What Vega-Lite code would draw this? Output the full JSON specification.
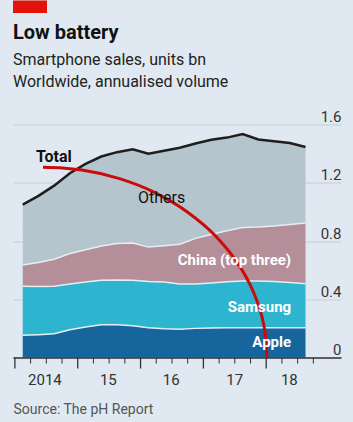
{
  "$schema": "https://vega.github.io/schema/vega-lite/v6.json",
  "width": 328,
  "height": 233,
  "autosize": "none",
  "padding": {"left": 13, "top": 124.5, "right": 12, "bottom": 64.5},
  "background": "#e0e9f1",
  "title": {
    "text": "Low battery",
    "subtitle": ["Smartphone sales, units bn", "Worldwide, annualised volume"],
    "anchor": "start",
    "frame": "group",
    "fontSize": 20,
    "fontWeight": "bold",
    "color": "#111111",
    "subtitleFontSize": 16,
    "subtitleColor": "#222222",
    "subtitleLineHeight": 22,
    "subtitlePadding": 9,
    "offset": -90
  },
  "datasets": {
    "sales": [
      {"q": 2014.125, "Apple": 0.152, "Samsung": 0.338, "China (top three)": 0.145, "Others": 0.415, "Total": 1.05},
      {"q": 2014.375, "Apple": 0.157, "Samsung": 0.331, "China (top three)": 0.164, "Others": 0.458, "Total": 1.11},
      {"q": 2014.625, "Apple": 0.163, "Samsung": 0.327, "China (top three)": 0.185, "Others": 0.505, "Total": 1.18},
      {"q": 2014.875, "Apple": 0.19, "Samsung": 0.315, "China (top three)": 0.209, "Others": 0.551, "Total": 1.265},
      {"q": 2015.125, "Apple": 0.21, "Samsung": 0.308, "China (top three)": 0.222, "Others": 0.59, "Total": 1.33},
      {"q": 2015.375, "Apple": 0.225, "Samsung": 0.305, "China (top three)": 0.235, "Others": 0.615, "Total": 1.38},
      {"q": 2015.625, "Apple": 0.225, "Samsung": 0.307, "China (top three)": 0.25, "Others": 0.628, "Total": 1.41},
      {"q": 2015.875, "Apple": 0.218, "Samsung": 0.312, "China (top three)": 0.256, "Others": 0.644, "Total": 1.43},
      {"q": 2016.125, "Apple": 0.205, "Samsung": 0.317, "China (top three)": 0.236, "Others": 0.642, "Total": 1.4},
      {"q": 2016.375, "Apple": 0.198, "Samsung": 0.32, "China (top three)": 0.25, "Others": 0.652, "Total": 1.42},
      {"q": 2016.625, "Apple": 0.194, "Samsung": 0.311, "China (top three)": 0.273, "Others": 0.662, "Total": 1.44},
      {"q": 2016.875, "Apple": 0.2, "Samsung": 0.305, "China (top three)": 0.313, "Others": 0.652, "Total": 1.47},
      {"q": 2017.125, "Apple": 0.202, "Samsung": 0.31, "China (top three)": 0.333, "Others": 0.65, "Total": 1.495},
      {"q": 2017.375, "Apple": 0.204, "Samsung": 0.316, "China (top three)": 0.35, "Others": 0.64, "Total": 1.51},
      {"q": 2017.625, "Apple": 0.205, "Samsung": 0.32, "China (top three)": 0.367, "Others": 0.643, "Total": 1.535},
      {"q": 2017.875, "Apple": 0.205, "Samsung": 0.32, "China (top three)": 0.371, "Others": 0.601, "Total": 1.497},
      {"q": 2018.125, "Apple": 0.205, "Samsung": 0.317, "China (top three)": 0.381, "Others": 0.582, "Total": 1.485},
      {"q": 2018.375, "Apple": 0.205, "Samsung": 0.31, "China (top three)": 0.398, "Others": 0.56, "Total": 1.473},
      {"q": 2018.625, "Apple": 0.204, "Samsung": 0.303, "China (top three)": 0.417, "Others": 0.522, "Total": 1.446}
    ],
    "arc": [
      {"q": 2014.447, "v": 1.307},
      {"q": 2014.757, "v": 1.302},
      {"q": 2015.066, "v": 1.287},
      {"q": 2015.666, "v": 1.228},
      {"q": 2016.229, "v": 1.132},
      {"q": 2016.739, "v": 1.001},
      {"q": 2017.178, "v": 0.841},
      {"q": 2017.534, "v": 0.655},
      {"q": 2017.678, "v": 0.554},
      {"q": 2017.797, "v": 0.449},
      {"q": 2017.891, "v": 0.341},
      {"q": 2017.958, "v": 0.23},
      {"q": 2017.997, "v": 0.117},
      {"q": 2018.012, "v": 0}
    ],
    "yearTicks": [
      {"q": 2014}, {"q": 2015}, {"q": 2016}, {"q": 2017}, {"q": 2018}
    ],
    "quarterTicks": [
      {"q": 2014.25}, {"q": 2014.5}, {"q": 2014.75},
      {"q": 2015.25}, {"q": 2015.5}, {"q": 2015.75},
      {"q": 2016.25}, {"q": 2016.5}, {"q": 2016.75},
      {"q": 2017.25}, {"q": 2017.5}, {"q": 2017.75},
      {"q": 2018.25}, {"q": 2018.5}, {"q": 2018.75}
    ]
  },
  "layer": [
    {
      "data": {"name": "sales"},
      "transform": [
        {"fold": ["Apple", "Samsung", "China (top three)", "Others"], "as": ["series", "v"]},
        {"calculate": "indexof(['Apple','Samsung','China (top three)','Others'], datum.series)", "as": "ord"}
      ],
      "mark": {"type": "area"},
      "encoding": {
        "x": {
          "field": "q",
          "type": "quantitative",
          "scale": {"domain": [2013.97, 2019.19], "nice": false, "zero": false},
          "axis": {
            "values": [2014.47, 2015.48, 2016.48, 2017.49, 2018.36],
            "labelExpr": "datum.value < 2015 ? '2014' : (datum.value < 2016 ? '15' : (datum.value < 2017 ? '16' : (datum.value < 2018 ? '17' : '18')))",
            "ticks": false,
            "domainColor": "#333333",
            "domainWidth": 1.3,
            "labelFontSize": 15,
            "labelColor": "#333333",
            "labelPadding": 15,
            "labelOverlap": false,
            "labelFlush": false,
            "grid": false,
            "zindex": 1,
            "title": "Source: The pH Report",
            "titleAnchor": "start",
            "titleAlign": "left",
            "titleFontWeight": "normal",
            "titleFontSize": 14,
            "titleColor": "#555555",
            "titlePadding": 15
          }
        },
        "y": {
          "field": "v",
          "type": "quantitative",
          "stack": "zero",
          "scale": {"domain": [0, 1.6], "nice": false},
          "axis": {
            "orient": "right",
            "values": [0, 0.4, 0.8, 1.2, 1.6],
            "format": "~g",
            "grid": true,
            "gridColor": "#c3ced8",
            "gridWidth": 1,
            "domain": false,
            "ticks": false,
            "labelAlign": "right",
            "labelBaseline": "alphabetic",
            "labelPadding": 0,
            "labelOffset": -3,
            "labelFontSize": 15,
            "labelColor": "#333333",
            "title": null
          }
        },
        "color": {
          "field": "series",
          "type": "nominal",
          "scale": {
            "domain": ["Apple", "Samsung", "China (top three)", "Others"],
            "range": ["#16659c", "#2db5cf", "#b48f99", "#b5c5ce"]
          },
          "legend": null
        },
        "order": {"field": "ord", "type": "quantitative"}
      }
    },
    {
      "data": {"name": "sales"},
      "transform": [
        {"fold": ["Apple", "Samsung", "China (top three)", "Others"], "as": ["series", "v"]},
        {"calculate": "indexof(['Apple','Samsung','China (top three)','Others'], datum.series)", "as": "ord"},
        {"window": [{"op": "sum", "field": "v", "as": "cum"}], "groupby": ["q"], "sort": [{"field": "ord"}], "frame": [null, 0]},
        {"filter": "datum.series !== 'Others'"}
      ],
      "mark": {"type": "line", "color": "#e6edf3", "strokeWidth": 1.5},
      "encoding": {
        "x": {"field": "q", "type": "quantitative"},
        "y": {"field": "cum", "type": "quantitative", "title": null},
        "detail": {"field": "series", "type": "nominal"}
      }
    },
    {
      "data": {"name": "sales"},
      "mark": {"type": "line", "color": "#1e1e1e", "strokeWidth": 2.5},
      "encoding": {
        "x": {"field": "q", "type": "quantitative"},
        "y": {"field": "Total", "type": "quantitative", "title": null}
      }
    },
    {
      "data": {"name": "yearTicks"},
      "mark": {"type": "rule", "color": "#333333", "strokeWidth": 1.3, "clip": false},
      "encoding": {
        "x": {"field": "q", "type": "quantitative"},
        "y": {"datum": 0},
        "y2": {"datum": -0.076}
      }
    },
    {
      "data": {"name": "quarterTicks"},
      "mark": {"type": "rule", "color": "#333333", "strokeWidth": 1, "clip": false},
      "encoding": {
        "x": {"field": "q", "type": "quantitative"},
        "y": {"datum": 0},
        "y2": {"datum": -0.042}
      }
    },
    {
      "data": {"name": "arc"},
      "mark": {"type": "line", "color": "#cc0a0a", "strokeWidth": 3, "interpolate": "monotone"},
      "encoding": {
        "x": {"field": "q", "type": "quantitative"},
        "y": {"field": "v", "type": "quantitative", "title": null}
      }
    },
    {
      "data": {"values": [{}]},
      "mark": {"type": "rect", "color": "#e3120b", "clip": false},
      "encoding": {
        "x": {"datum": 2013.97},
        "x2": {"datum": 2014.511},
        "y": {"datum": 2.452},
        "y2": {"datum": 2.365}
      }
    },
    {
      "data": {"values": [{}]},
      "mark": {"type": "text", "text": "Total", "align": "left", "baseline": "alphabetic", "fontSize": 16, "fontWeight": "bold", "color": "#111111"},
      "encoding": {"x": {"datum": 2014.336}, "y": {"datum": 1.341}}
    },
    {
      "data": {"values": [{}]},
      "mark": {"type": "text", "text": "Others", "align": "left", "baseline": "alphabetic", "fontSize": 16, "color": "#111111"},
      "encoding": {"x": {"datum": 2015.959}, "y": {"datum": 1.06}}
    },
    {
      "data": {"values": [{}]},
      "mark": {"type": "text", "text": "China (top three)", "align": "right", "baseline": "alphabetic", "fontSize": 15, "fontWeight": "bold", "color": "#ffffff"},
      "encoding": {"x": {"datum": 2018.396}, "y": {"datum": 0.634}}
    },
    {
      "data": {"values": [{}]},
      "mark": {"type": "text", "text": "Samsung", "align": "right", "baseline": "alphabetic", "fontSize": 15, "fontWeight": "bold", "color": "#ffffff"},
      "encoding": {"x": {"datum": 2018.396}, "y": {"datum": 0.314}}
    },
    {
      "data": {"values": [{}]},
      "mark": {"type": "text", "text": "Apple", "align": "right", "baseline": "alphabetic", "fontSize": 15, "fontWeight": "bold", "color": "#ffffff"},
      "encoding": {"x": {"datum": 2018.396}, "y": {"datum": 0.07}}
    }
  ],
  "config": {
    "view": {"stroke": null},
    "font": "Roboto, sans-serif"
  }
}
